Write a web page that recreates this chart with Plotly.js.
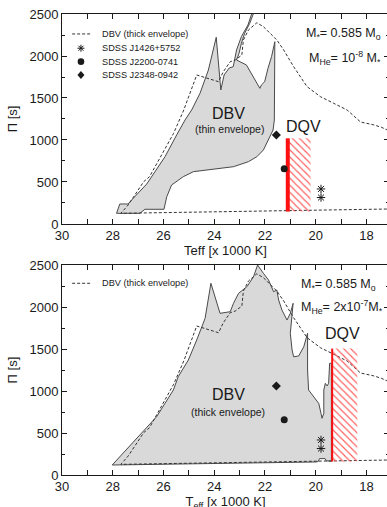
<!DOCTYPE html>
<html>
<head>
<meta charset="utf-8">
<script src="https://cdn.plot.ly/plotly-3.0.1.min.js"></script>
<style>
  html, body { margin: 0; padding: 0; background: #fff; overflow: hidden; width: 387px; height: 507px; }
  #chart { width: 389px; height: 512px; }
</style>
</head>
<body>
<div id="chart"></div>
<script>
// DBV instability domain, thin helium envelope (M_He = 1e-8 M*)
const thinTeff = [27.85, 27.72, 27.39, 27.32, 26.66, 25.94, 25.48, 25.15, 24.89, 24.56, 24.23, 23.92, 23.74, 23.61, 23.41, 23.25, 23.12, 22.93, 22.67, 22.47, 22.40, 22.60, 22.80, 22.93, 23.02, 23.12, 22.73, 22.47, 22.20, 22.14, 22.01, 21.88, 21.74, 21.61, 21.63, 21.68, 21.86, 22.06, 22.32, 22.65, 23.24, 24.03, 24.82, 25.22, 25.48, 25.68, 25.87, 25.98, 26.73, 26.93, 27.85];
const thinPeriod = [127, 238, 238, 265, 476, 801, 1060, 1238, 1357, 1556, 1833, 2223, 1595, 1774, 1857, 1873, 2071, 2230, 2369, 2548, 2548, 2389, 2270, 2151, 2032, 1952, 1893, 1754, 1615, 1655, 1694, 1854, 1992, 2170, 1238, 1119, 1000, 881, 801, 742, 682, 651, 623, 563, 504, 464, 325, 175, 175, 127, 127];

// DBV instability domain, thick helium envelope (M_He = 2e-7 M*)
const thickTeff = [28.02, 26.27, 25.94, 25.61, 25.42, 25.15, 25.02, 24.69, 24.36, 24.13, 23.77, 23.37, 23.24, 23.04, 22.71, 22.45, 22.29, 22.06, 21.86, 21.66, 21.53, 21.46, 21.33, 21.13, 21.00, 20.89, 21.00, 20.93, 20.87, 20.67, 20.47, 20.32, 20.32, 20.28, 20.14, 19.88, 19.79, 19.75, 19.68, 19.68, 19.62, 19.55, 19.49, 19.45, 19.38, 19.38, 19.58, 19.63, 19.85, 19.90, 20.00, 22.00, 24.00, 26.00, 28.02];
const thickPeriod = [119, 694, 853, 1012, 1170, 1310, 1369, 1607, 1865, 2282, 1925, 1944, 2044, 2163, 2242, 2361, 2500, 2401, 2322, 2182, 2202, 2083, 1964, 1845, 1925, 2044, 1687, 1488, 1408, 1417, 1527, 1687, 1250, 1012, 952, 853, 734, 675, 734, 1012, 1091, 1060, 1091, 1330, 1330, 165, 168, 195, 195, 160, 155, 148, 140, 130, 119];

// Outline of the thick-envelope DBV domain (dashed reference curve)
const envTeff = [17.00, 18.00, 19.00, 20.00, 21.00, 22.00, 24.00, 26.80, 27.68, 27.39, 27.00, 26.78, 26.55, 26.05, 25.60, 25.20, 25.05, 24.69, 23.83, 23.64, 23.37, 23.17, 22.91, 22.85, 22.65, 22.32, 22.06, 21.79, 21.53, 21.26, 20.87, 20.34, 19.81, 19.29, 18.76, 18.23, 17.71, 17.40, 17.00];
const envPeriod = [179, 174, 170, 165, 152, 148, 140, 130, 127, 226, 405, 504, 563, 842, 1080, 1357, 1476, 1774, 1694, 1813, 1932, 1952, 2012, 2190, 2310, 2396, 2349, 2270, 2190, 2071, 1873, 1635, 1515, 1437, 1357, 1214, 1180, 1150, 1095];

// Observed pulsators
const starNames = ['SDSS J1426+5752', 'SDSS J2200-0741', 'SDSS J2348-0942'];
const j1426Teff = [19.79, 19.79];
const j1426Period = [417, 315];
const j2200Teff = [21.24];
const j2200Period = [657];
const j2348Teff = [21.55];
const j2348Period = [1060];

// DQV strip: [blue edge, red edge] in Teff and [min, max] period
const dqvThinTeff = [21.10, 20.20];
const dqvThinPeriod = [148, 1020];
const dqvThickTeff = [19.35, 18.36];
const dqvThickPeriod = [160, 1505];

const FONT = 'Liberation Sans, Arial, Helvetica, sans-serif';
const INK = '#1a1a1a';

function panelTraces(xa, ya, regionTeff, regionPeriod, dqvTeff, dqvPeriod, edgeWidth) {
  const t = [];
  t.push({
    type: 'scatter', mode: 'lines', x: regionTeff, y: regionPeriod,
    fill: 'toself', fillcolor: '#d9d9d9',
    line: { color: '#4a4a4a', width: 1 },
    xaxis: xa, yaxis: ya, hoverinfo: 'skip'
  });
  t.push({
    type: 'scatter', mode: 'lines', x: envTeff, y: envPeriod,
    line: { color: '#333', width: 1, dash: '3px,2px' },
    xaxis: xa, yaxis: ya, hoverinfo: 'skip'
  });
  const [blue, red] = dqvTeff;
  const [lo, hi] = dqvPeriod;
  t.push({
    type: 'scatter', mode: 'none',
    x: [blue, red, red, blue, blue], y: [lo, lo, hi, hi, lo],
    fill: 'toself', fillcolor: 'rgba(0,0,0,0)',
    fillpattern: { shape: '\\', fgcolor: '#ff5a5a', bgcolor: 'rgba(255,255,255,0)', size: 5, solidity: 0.22 },
    xaxis: xa, yaxis: ya, hoverinfo: 'skip'
  });
  t.push({
    type: 'scatter', mode: 'lines', x: [blue, blue], y: [lo, hi],
    line: { color: '#ff1010', width: edgeWidth },
    xaxis: xa, yaxis: ya, hoverinfo: 'skip'
  });
  t.push({
    type: 'scatter', mode: 'markers', x: j1426Teff, y: j1426Period, name: starNames[0],
    marker: { symbol: 'asterisk-open', size: 7, color: INK, line: { width: 1, color: INK } },
    xaxis: xa, yaxis: ya
  });
  t.push({
    type: 'scatter', mode: 'markers', x: j2200Teff, y: j2200Period, name: starNames[1],
    marker: { symbol: 'circle', size: 7, color: INK },
    xaxis: xa, yaxis: ya
  });
  t.push({
    type: 'scatter', mode: 'markers', x: j2348Teff, y: j2348Period, name: starNames[2],
    marker: { symbol: 'diamond', size: 7, color: INK },
    xaxis: xa, yaxis: ya
  });
  return t;
}

const data = [
  ...panelTraces('x', 'y', thinTeff, thinPeriod, dqvThinTeff, dqvThinPeriod, 4),
  ...panelTraces('x2', 'y2', thickTeff, thickPeriod, dqvThickTeff, dqvThickPeriod, 2)
];

function xAxis(anchor, title, titleStandoff) {
  return {
    anchor: anchor, range: [30, 17.11], autorange: false,
    tick0: 30, dtick: 2, ticks: 'inside', ticklen: 5, tickwidth: 1, tickcolor: INK,
    minor: { dtick: 1, ticks: 'inside', ticklen: 5, tickwidth: 1, tickcolor: INK, showgrid: false },
    showline: true, linecolor: INK, linewidth: 1, mirror: 'ticks',
    showgrid: false, zeroline: false,
    ticklabelstandoff: -1,
    tickfont: { family: FONT, size: 13, color: INK },
    title: { text: title, font: { family: FONT, size: 13, color: INK }, standoff: titleStandoff }
  };
}
function yAxis(anchor, domain) {
  return {
    anchor: anchor, domain: domain, range: [0, 2500], autorange: false,
    tick0: 0, dtick: 500, ticks: 'inside', ticklen: 5, tickwidth: 1, tickcolor: INK,
    minor: { dtick: 250, ticks: 'inside', ticklen: 3, tickwidth: 1, tickcolor: INK, showgrid: false },
    showline: true, linecolor: INK, linewidth: 1, mirror: 'ticks',
    showgrid: false, zeroline: false,
    tickfont: { family: FONT, size: 13, color: INK },
    title: { text: 'Π [s]', font: { family: FONT, size: 13, color: INK }, standoff: 8 }
  };
}

const topDomain = [0.5445, 1];
const botDomain = [0, 0.4555];

// Legend keys drawn in axis-domain space of each panel
const legendX = 0.058, legendTextX = 0.117;
const legendRows = [0.905, 0.837, 0.773, 0.710];

function ann(text, x, y, xref, yref, size, opts) {
  return Object.assign({
    text: text, x: x, y: y, xref: xref, yref: yref, showarrow: false,
    font: { family: FONT, size: size, color: INK }, xanchor: 'left', yanchor: 'middle'
  }, opts || {});
}

const annotations = [
  // upper legend
  ann('DBV (thick envelope)', legendTextX, legendRows[0], 'x domain', 'y domain', 9.2),
  ann(starNames[0], legendTextX, legendRows[1], 'x domain', 'y domain', 9.2),
  ann(starNames[1], legendTextX, legendRows[2], 'x domain', 'y domain', 9.2),
  ann(starNames[2], legendTextX, legendRows[3], 'x domain', 'y domain', 9.2),
  // lower legend
  ann('DBV (thick envelope)', legendTextX, 0.913, 'x2 domain', 'y2 domain', 9.2),
  // model parameters
  ann('M<sub>*</sub>= 0.585 M<sub>o</sub>', 0.741, 0.905, 'x domain', 'y domain', 12.5),
  ann('M<sub>He</sub>= 10<sup>-8</sup> M<sub>*</sub>', 0.750, 0.79, 'x domain', 'y domain', 12.5),
  ann('M<sub>*</sub>= 0.585 M<sub>o</sub>', 0.725, 0.905, 'x2 domain', 'y2 domain', 12.5),
  ann('M<sub>He</sub>= 2x10<sup>-7</sup>M<sub>*</sub>', 0.725, 0.80, 'x2 domain', 'y2 domain', 12.5),
  // region labels
  ann('DBV', 23.43, 1315, 'x', 'y', 16, { xanchor: 'center' }),
  ann('(thin envelope)', 23.39, 1135, 'x', 'y', 10.5, { xanchor: 'center' }),
  ann('DQV', 20.47, 1160, 'x', 'y', 16, { xanchor: 'center' }),
  ann('DBV', 23.43, 955, 'x2', 'y2', 16, { xanchor: 'center' }),
  ann('(thick envelope)', 23.47, 750, 'x2', 'y2', 10.5, { xanchor: 'center' }),
  ann('DQV', 18.94, 1679, 'x2', 'y2', 16, { xanchor: 'center' })
];

const keyLine = { color: INK, width: 1 };
const shapes = [
  { type: 'line', xref: 'x domain', yref: 'y domain', x0: 0.031, x1: 0.086, y0: legendRows[0], y1: legendRows[0], line: { color: '#333', width: 1, dash: '3px,2px' } },
  { type: 'line', xref: 'x2 domain', yref: 'y2 domain', x0: 0.031, x1: 0.086, y0: 0.913, y1: 0.913, line: { color: '#333', width: 1, dash: '3px,2px' } },
  { type: 'path', xref: 'x domain', yref: 'y domain', xsizemode: 'pixel', ysizemode: 'pixel', xanchor: legendX, yanchor: legendRows[1],
    path: 'M -3.5 0 L 3.5 0 M 0 -3.5 L 0 3.5 M -2.5 -2.5 L 2.5 2.5 M -2.5 2.5 L 2.5 -2.5', line: keyLine },
  { type: 'circle', xref: 'x domain', yref: 'y domain', xsizemode: 'pixel', ysizemode: 'pixel', xanchor: legendX, yanchor: legendRows[2],
    x0: -3.3, x1: 3.3, y0: -3.3, y1: 3.3, fillcolor: INK, line: { width: 0 } },
  { type: 'path', xref: 'x domain', yref: 'y domain', xsizemode: 'pixel', ysizemode: 'pixel', xanchor: legendX, yanchor: legendRows[3],
    path: 'M 0 4 L 3.5 0 L 0 -4 L -3.5 0 Z', fillcolor: INK, line: { width: 0 } }
];

// The figure is a few pixels taller than the page so the lower axis title has room; the page crops the blank strip.
const layout = {
  width: 389, height: 512,
  margin: { l: 62, r: 0, t: 14, b: 37 },
  paper_bgcolor: '#fff', plot_bgcolor: '#fff',
  showlegend: false,
  font: { family: FONT, color: INK },
  xaxis: xAxis('y', 'Teff [x 1000 K]', 0),
  yaxis: yAxis('x', topDomain),
  xaxis2: xAxis('y2', 'T<sub>eff</sub> [x 1000 K]', 4),
  yaxis2: yAxis('x2', botDomain),
  annotations: annotations,
  shapes: shapes
};

Plotly.newPlot('chart', data, layout, { staticPlot: true, displayModeBar: false });
</script>
</body>
</html>
